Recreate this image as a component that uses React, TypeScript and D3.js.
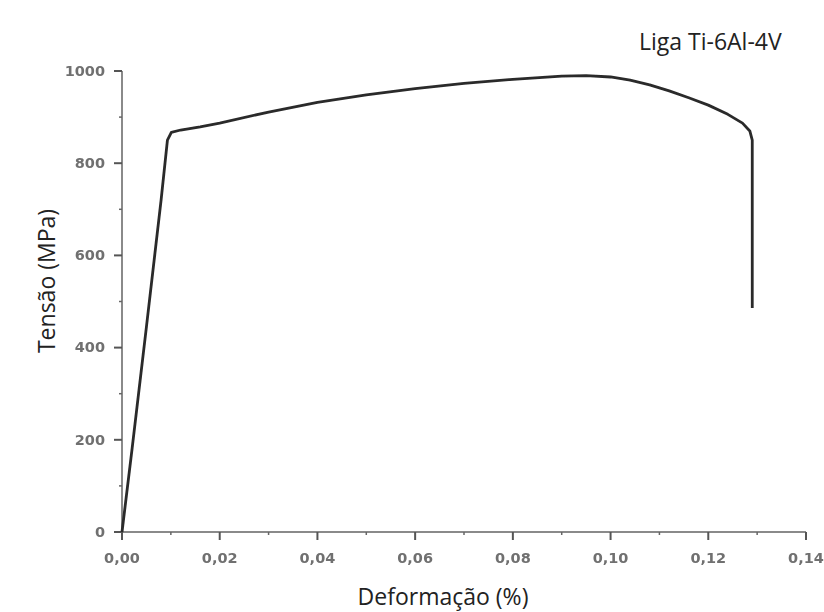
import React from "react";
import * as d3 from "d3";

// Tensile test curve for the Ti-6Al-4V alloy
const strain = [0, 0.002, 0.005, 0.008, 0.0093, 0.0101, 0.012, 0.016, 0.02, 0.03, 0.04, 0.05, 0.06, 0.07, 0.08, 0.09, 0.095, 0.1, 0.104, 0.108, 0.112, 0.116, 0.12, 0.124, 0.127, 0.1285, 0.129, 0.129];
const stress = [0, 175, 445, 720, 850, 867, 872, 879, 887, 911, 932, 948, 962, 973, 982, 989, 990, 987, 980, 970, 957, 942, 926, 906, 887, 870, 850, 486];

const xTicks = [0, 0.02, 0.04, 0.06, 0.08, 0.1, 0.12, 0.14];
const xTickLabels = ["0,00", "0,02", "0,04", "0,06", "0,08", "0,10", "0,12", "0,14"];
const yTicks = [0, 200, 400, 600, 800, 1000];
const xMinor = [0.01, 0.03, 0.05, 0.07, 0.09, 0.11, 0.13];
const yMinor = [100, 300, 500, 700, 900];

const title = "Liga Ti-6Al-4V";
const xTitle = "Deformação (%)";
const yTitle = "Tensão (MPa)";

export default function App() {
  const W = 824;
  const H = 612;
  const x = d3.scaleLinear().domain([0, 0.14]).range([122, 806]);
  const y = d3.scaleLinear().domain([0, 1000]).range([532, 71]);
  const pts = strain.map((s, i) => [s, stress[i]] as [number, number]);
  const line = d3.line<[number, number]>().x((d) => x(d[0])).y((d) => y(d[1]));
  const axisColor = "#8a8a8a";
  const labelColor = "#707070";
  const tickFont = "DejaVu Sans, Verdana, sans-serif";

  return (
    <svg width={W} height={H} style={{ position: "absolute", left: 0, top: 0, background: "#fff" }}>
      <defs>
        <filter id="soft" x="-5%" y="-5%" width="110%" height="110%">
          <feGaussianBlur stdDeviation="0.55" />
        </filter>
      </defs>
      <g filter="url(#soft)">
        {/* axes */}
        <line x1={x(0)} x2={x(0)} y1={y(0)} y2={y(1000)} stroke={axisColor} strokeWidth={2} />
        <line x1={x(0)} x2={x(0.14)} y1={y(0)} y2={y(0)} stroke={axisColor} strokeWidth={2} />
        {yTicks.map((t) => (
          <g key={"y" + t}>
            <line x1={x(0) - 8} x2={x(0)} y1={y(t)} y2={y(t)} stroke="#555" strokeWidth={2} />
            <text x={x(0) - 17} y={y(t)} dy="0.33em" textAnchor="end" fontFamily={tickFont} fontSize={14.5} fontWeight="bold" fill={labelColor}>
              {t}
            </text>
          </g>
        ))}
        {yMinor.map((t) => (
          <line key={"ym" + t} x1={x(0) - 3} x2={x(0)} y1={y(t)} y2={y(t)} stroke="#666" strokeWidth={1.5} />
        ))}
        {xTicks.map((t, i) => (
          <g key={"x" + t}>
            <line x1={x(t)} x2={x(t)} y1={y(0)} y2={y(0) + 8} stroke="#555" strokeWidth={2} />
            <text x={x(t)} y={y(0) + 31} textAnchor="middle" fontFamily={tickFont} fontSize={14.5} fontWeight="bold" fill={labelColor}>
              {xTickLabels[i]}
            </text>
          </g>
        ))}
        {xMinor.map((t) => (
          <line key={"xm" + t} x1={x(t)} x2={x(t)} y1={y(0)} y2={y(0) + 3} stroke="#666" strokeWidth={1.5} />
        ))}
        {/* stress-strain curve */}
        <path d={line(pts) ?? ""} fill="none" stroke="#2a2a2a" strokeWidth={2.8} strokeLinejoin="round" />
      </g>
      <text x={639} y={50} fontFamily="Open Sans, sans-serif" fontSize={23} fill="#222">
        {title}
      </text>
      <text x={443} y={605} textAnchor="middle" fontFamily="Open Sans, sans-serif" fontSize={23} fill="#222">
        {xTitle}
      </text>
      <text transform="translate(55,281) rotate(-90)" textAnchor="middle" fontFamily="Open Sans, sans-serif" fontSize={23} fill="#222">
        {yTitle}
      </text>
    </svg>
  );
}
